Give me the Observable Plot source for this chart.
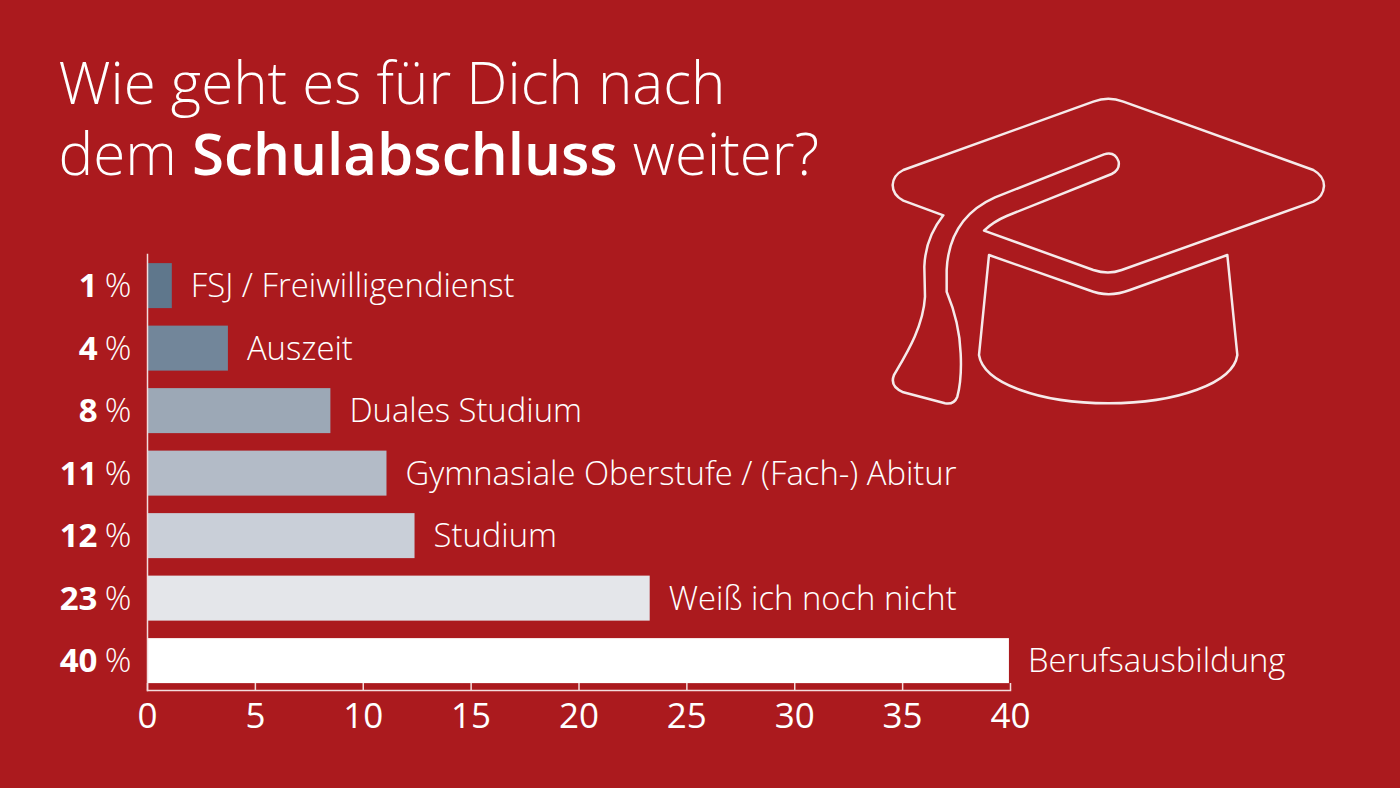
<!DOCTYPE html>
<html lang="de">
<head>
<meta charset="utf-8">
<script src="https://cdn.jsdelivr.net/npm/d3@7"></script>
<script src="https://cdn.jsdelivr.net/npm/@observablehq/plot@0.6"></script>
<style>
html,body{margin:0;padding:0;width:1400px;height:788px;overflow:hidden;background:#ab1a1e;}
body{position:relative;font-family:"Open Sans",sans-serif;color:#fff;}
#title{box-sizing:border-box;height:240px;padding:46px 0 0 58.5px;font-size:58.3px;line-height:71px;font-weight:300;margin:0;}
#title b{font-weight:600;}
#hat{position:absolute;left:880px;top:90px;}
#chart svg{display:block;}
</style>
</head>
<body>
<h1 id="title">Wie geht es für Dich nach<br>dem <b>Schulabschluss</b> weiter?</h1>
<svg id="hat" width="460" height="320" viewBox="0 0 1380 960" fill="none" stroke="#f6eaea" stroke-width="7.5" stroke-linejoin="round">
<path d="M190,376 L70,332 Q38,315 38,285 Q40,255 70,240 L640,35 Q685,18 730,35 L1300,240 Q1332,258 1332,288 Q1330,320 1300,335 L725,540 Q685,555 640,540 L312,422 Q340,395 380,378 L695,252 Q720,240 716,215 Q705,183 672,193 L345,322 C260,360 205,430 200,540 L200,605 C225,665 240,730 242,790 C245,850 240,890 232,920 Q222,945 195,940 L70,907 Q28,890 42,855 C80,790 130,710 135,620 L133,530 C135,470 155,420 190,376 Z"/>
<path d="M327,495 L625,600 Q685,625 750,600 L1042,495 L1072,795 C1060,880 890,940 685,940 C480,940 310,880 297,795 Z"/>
</svg>
<div id="chart"></div>
<script>
const categories = ["FSJ / Freiwilligendienst","Auszeit","Duales Studium","Gymnasiale Oberstufe / (Fach-) Abitur","Studium","Weiß ich noch nicht","Berufsausbildung"];
const values = [1.15,3.75,8.5,11.1,12.4,23.3,39.95];
const labels = [1,4,8,11,12,23,40];
const fills = ["#5f778c","#72869a","#9ca8b6","#b3bbc7","#c9cfd8","#e4e6ea","#ffffff"];
const xTicks = [0,5,10,15,20,25,30,35,40];
const rows = categories.map((c,i)=>({category:c,value:values[i],label:labels[i],fill:fills[i]}));
const line = "#f3dcdc";
const chart = Plot.plot({
  width:1400,height:548,
  marginLeft:147,marginRight:390,marginTop:14,marginBottom:98,
  style:{background:"transparent",color:"#fff",fontFamily:"'Open Sans',sans-serif"},
  x:{domain:[0,40],label:null},
  y:{domain:categories,round:false,paddingInner:0.28,paddingOuter:0.128,align:0.57,label:null},
  marks:[
    Plot.barX(rows,{x:"value",y:"category",fill:"fill"}),
    Plot.frame({anchor:"left",stroke:line,strokeWidth:1.5}),
    Plot.frame({anchor:"bottom",stroke:line,strokeWidth:1.5}),
    Plot.axisX({ticks:xTicks,tickSize:-7,tickPadding:20,stroke:line,strokeWidth:1.5,fontSize:35,fill:"#fff",fontWeight:400,label:null,tickFormat:d=>String(d)}),
    Plot.axisY({ticks:[],label:null,tickSize:0}),
    Plot.text(rows,{x:0,y:"category",text:d=>"%",textAnchor:"end",dx:-16,dy:0.5,fontSize:33,fontWeight:300,fill:"#fff"}),
    Plot.text(rows,{x:0,y:"category",text:d=>String(d.label),textAnchor:"end",dx:-50,dy:0.5,fontSize:33,fontWeight:700,fill:"#fff"}),
    Plot.text(rows,{x:"value",y:"category",text:"category",textAnchor:"start",dx:18.5,dy:0.5,fontSize:32.8,fontWeight:300,fill:"#fff"})
  ]
});
document.getElementById("chart").appendChild(chart);
</script>
</body>
</html>
